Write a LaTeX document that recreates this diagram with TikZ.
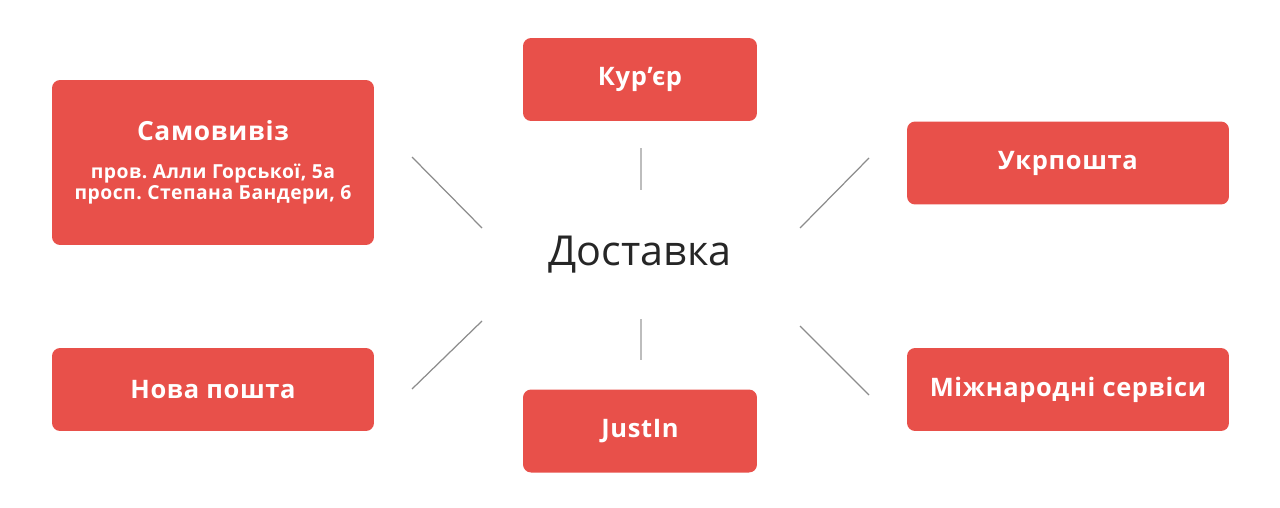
\documentclass[tikz,border=0pt]{standalone}
\usepackage{fontspec}
\setmainfont{Open Sans}
\newfontfamily\boxfont{Open Sans}[LetterSpace=2.5]
\usepackage{tikz}

\definecolor{boxred}{HTML}{E8504A}
\definecolor{spokegray}{HTML}{8C8C8C}
\definecolor{spokelight}{HTML}{BDBDBD}

\tikzset{
  deliverybox/.style={fill=boxred, rounded corners=0.16cm, text=white,
    inner sep=0pt, font=\boxfont\bfseries\frenchspacing\fontsize{14.5}{17}\selectfont},
  wide/.style={minimum width=6.44cm},
  narrow/.style={minimum width=4.68cm},
  spoke/.style={spokegray, line width=0.7pt},
  vspoke/.style={spokelight, line width=0.9pt}
}

\begin{document}
\begin{tikzpicture}[x=0.02cm, y=-0.02cm]

  % Parameters (in pixels of the layout)
  \def\boxh{1.66cm}   % height of a one-line box
  \def\tallh{3.3cm}   % height of the pickup box

  \useasboundingbox (0,0) rectangle (1280,507);

  % --- Centre ---
  \node (hub) at (640,255) [font=\fontsize{23.5}{28}\selectfont, text=black!85] {Доставка};

  % --- Left column ---
  \node (pickup) at (213,162.5) [deliverybox, wide, minimum height=\tallh, align=center,
      font=\boxfont\bfseries\frenchspacing\fontsize{11}{11.8}\selectfont]
    {{\fontsize{15}{17}\selectfont Самовивіз}\\[10pt]
     пров. Алли Горської, 5а\\
     просп. Степана Бандери, 6};
  \node (novaposhta) at (213,389.5) [deliverybox, wide, minimum height=\boxh] {Нова пошта};

  % --- Middle column ---
  \node (courier) at (640,79.5) [deliverybox, narrow, minimum height=\boxh] {Кур’єр};
  \node (justin) at (640,431) [deliverybox, narrow, minimum height=\boxh] {JustIn};

  % --- Right column ---
  \node (ukrposhta) at (1068,163) [deliverybox, wide, minimum height=\boxh] {Укрпошта};
  \node (intl) at (1068,389.5) [deliverybox, wide, minimum height=\boxh] {Міжнародні сервіси};

  % --- Spokes ---
  \coordinate (ntop) at (641,148);   \coordinate (ntopin) at (641,190);
  \coordinate (nbot) at (641,360);   \coordinate (nbotin) at (641,319);
  \coordinate (nwout) at (412,157);  \coordinate (nwin) at (482,228);
  \coordinate (neout) at (869,158);  \coordinate (nein) at (800,228);
  \coordinate (swout) at (412,389);  \coordinate (swin) at (482,321);
  \coordinate (seout) at (869,395);  \coordinate (sein) at (800,326);

  \draw[vspoke] (ntop) -- (ntopin);
  \draw[vspoke] (nbotin) -- (nbot);
  \draw[spoke] (nwout) -- (nwin);
  \draw[spoke] (neout) -- (nein);
  \draw[spoke] (swout) -- (swin);
  \draw[spoke] (seout) -- (sein);
\end{tikzpicture}
\end{document}
